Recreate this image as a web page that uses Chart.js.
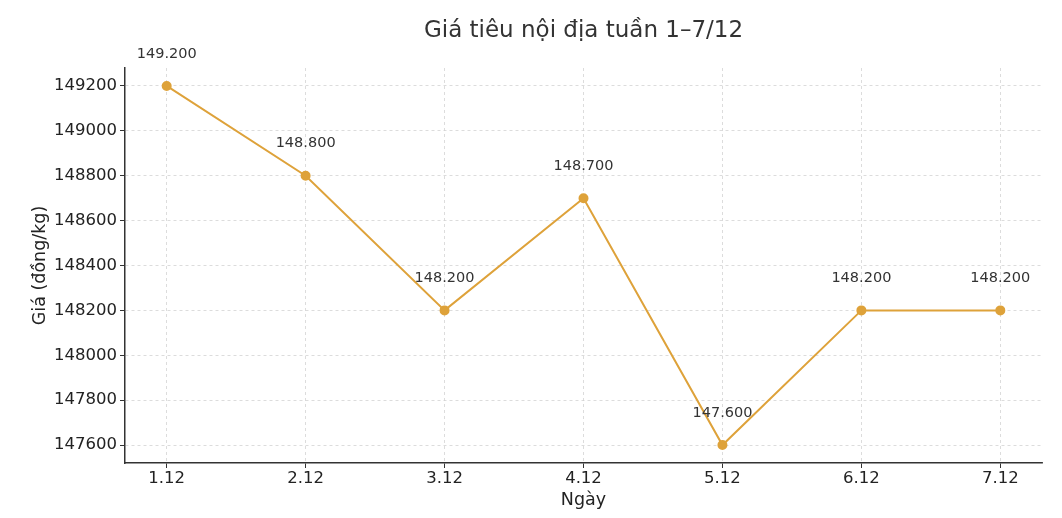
<!DOCTYPE html>
<html><head><meta charset="utf-8">
<script src="https://cdn.jsdelivr.net/npm/chart.js@4"></script>
<style>html,body{margin:0;padding:0;background:#fff}#w{width:1062px;height:518px}</style>
</head><body><div id="w"><canvas id="c"></canvas></div>
<script>
const categories = ['1.12','2.12','3.12','4.12','5.12','6.12','7.12'];
const prices = [149200, 148800, 148200, 148700, 147600, 148200, 148200];
const priceLabels = ['149.200','148.800','148.200','148.700','147.600','148.200','148.200'];
const yTicks = [147600,147800,148000,148200,148400,148600,148800,149000,149200];
const titleText = 'Giá tiêu nội địa tuần 1–7/12';
const xTitle = 'Ngày';
const yTitle = 'Giá (đồng/kg)';

const FONT = 'DejaVu Sans';
const textPlugin = {
  id: 'texts',
  afterDatasetsDraw(chart) {
    const ctx = chart.ctx, ca = chart.chartArea;
    const meta = chart.getDatasetMeta(0);
    ctx.save();
    ctx.fillStyle = '#333';
    ctx.font = '14.5px "' + FONT + '"';
    ctx.textAlign = 'center'; ctx.textBaseline = 'middle';
    meta.data.forEach((p, i) => { ctx.fillText(priceLabels[i], p.x, p.y - 32); });
    ctx.font = '23px "' + FONT + '"';
    ctx.fillText(titleText, (ca.left + ca.right) / 2, 31);
    ctx.fillStyle = '#222';
    ctx.font = '17.5px "' + FONT + '"';
    ctx.fillText(xTitle, (ca.left + ca.right) / 2, 500);
    ctx.translate(40, (ca.top + ca.bottom) / 2);
    ctx.rotate(-Math.PI / 2);
    ctx.fillText(yTitle, 0, 0);
    ctx.restore();
  }
};

new Chart(document.getElementById('c'), {
  type: 'line',
  data: {
    datasets: [{
      data: prices.map((v, i) => ({x: i, y: v})),
      borderColor: '#dea23a', backgroundColor: '#dea23a',
      borderWidth: 2, pointRadius: 4, pointHoverRadius: 4, tension: 0
    }]
  },
  options: {
    responsive: true, maintainAspectRatio: false, animation: false,
    layout: {padding: {top: 68, right: 20, left: 0, bottom: 0}},
    plugins: {legend: {display: false}, tooltip: {enabled: false}, title: {display: false}},
    scales: {
      x: {
        type: 'linear', min: -0.3, max: 6.3,
        afterBuildTicks: s => { s.ticks = categories.map((c, i) => ({value: i})); },
        afterFit: s => { s.height = 55; },
        ticks: {callback: v => categories[v], font: {family: FONT, size: 16.5}, color: '#222', padding: 1, maxRotation: 0},
        grid: {color: '#d4d4d4', lineWidth: 0.8, tickColor: '#333', tickLength: 5, tickBorderDash: [], tickWidth: 1},
        border: {display: true, color: '#333', width: 1.5, dash: [3, 3]}
      },
      y: {
        type: 'linear', min: 147520, max: 149280,
        afterBuildTicks: s => { s.ticks = yTicks.map(v => ({value: v})); },
        afterFit: s => { s.width = 125; },
        ticks: {callback: v => String(v), font: {family: FONT, size: 16.5}, color: '#222', padding: 3},
        grid: {color: '#d4d4d4', lineWidth: 0.8, tickColor: '#333', tickLength: 5, tickBorderDash: [], tickWidth: 1},
        border: {display: true, color: '#333', width: 1.5, dash: [3, 3]}
      }
    }
  },
  plugins: [textPlugin]
});
</script></body></html>
